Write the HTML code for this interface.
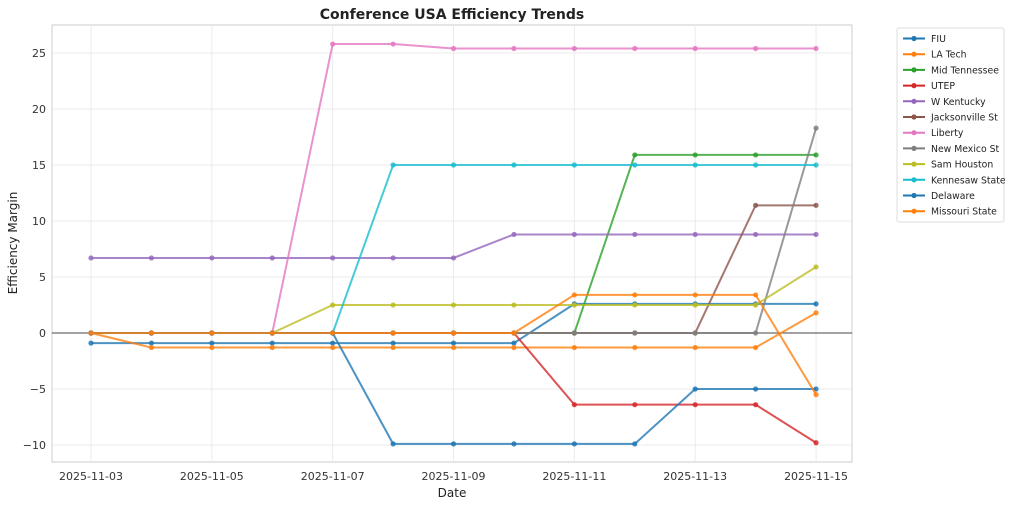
<!DOCTYPE html><html><head><style>body{margin:0;background:#fff}svg{font-family:"DejaVu Sans","Liberation Sans",sans-serif}</style></head><body>
<svg id="s" width="1024" height="506" xmlns="http://www.w3.org/2000/svg"></svg>
<script>
const s=document.getElementById('s');let h='';
const X=i=>91+60.42*i, Y=v=>333-11.2*v;
h+='<rect x="52" y="25" width="800" height="437" fill="#fff" stroke="#ccc"/>';
for(let i=0;i<=12;i+=2){h+=`<line x1="${X(i)}" y1="25" x2="${X(i)}" y2="462" stroke="#ebebeb"/>`;h+=`<text x="${X(i)}" y="480" font-size="11" text-anchor="middle" fill="#333">2025-11-${String(3+i).padStart(2,'0')}</text>`;}
for(let v=-10;v<=25;v+=5){h+=`<line x1="52" y1="${Y(v)}" x2="852" y2="${Y(v)}" stroke="#ebebeb"/>`;h+=`<text x="46" y="${Y(v)+4}" font-size="11" text-anchor="end" fill="#333">${v<0?'−'+(-v):v}</text>`;}
h+=`<line x1="52" y1="${Y(0)}" x2="852" y2="${Y(0)}" stroke="#444" stroke-width="0.9"/>`;
const rep=(a,n)=>Array(n).fill(a);
const S=[
['FIU','#1f77b4',[...rep(-0.9,8),...rep(2.6,5)]],
['LA Tech','#ff7f0e',[0,...rep(-1.3,11),1.8]],
['Mid Tennessee','#2ca02c',[...rep(0,9),...rep(15.9,4)]],
['UTEP','#d62728',[...rep(0,8),...rep(-6.4,4),-9.8]],
['W Kentucky','#9467bd',[...rep(6.7,7),...rep(8.8,6)]],
['Jacksonville St','#8c564b',[...rep(0,11),11.4,11.4]],
['Liberty','#e377c2',[0,0,0,0,25.8,25.8,...rep(25.4,7)]],
['New Mexico St','#7f7f7f',[...rep(0,12),18.3]],
['Sam Houston','#bcbd22',[0,0,0,0,...rep(2.5,8),5.9]],
['Kennesaw State','#17becf',[...rep(0,5),...rep(15,8)]],
['Delaware','#1f77b4',[...rep(0,5),...rep(-9.9,5),-5,-5,-5]],
['Missouri State','#ff7f0e',[...rep(0,8),3.4,3.4,3.4,3.4,-5.5]]];
S.forEach(([n,c,d])=>{h+=`<polyline fill="none" stroke="${c}" stroke-width="2" opacity="0.8" points="${d.map((v,i)=>X(i)+','+Y(v)).join(' ')}"/>`;d.forEach((v,i)=>h+=`<circle cx="${X(i)}" cy="${Y(v)}" r="2.6" fill="${c}" opacity="0.85"/>`);});
h+='<text x="452" y="19" font-size="14" font-weight="bold" text-anchor="middle" fill="#222">Conference USA Efficiency Trends</text>';
h+='<text x="452" y="497" font-size="12" text-anchor="middle" fill="#222">Date</text>';
h+='<text x="17" y="243" font-size="12" text-anchor="middle" fill="#222" transform="rotate(-90 17 243)">Efficiency Margin</text>';
h+='<rect x="897" y="28" width="107" height="194" fill="#fff" stroke="#ddd" rx="2"/>';
S.forEach(([n,c],k)=>{const y=38.5+15.7*k;h+=`<line x1="903" y1="${y}" x2="925" y2="${y}" stroke="${c}" stroke-width="2"/><circle cx="914" cy="${y}" r="2.6" fill="${c}"/><text x="931" y="${y+3.5}" font-size="9.3" fill="#222">${n}</text>`;});
s.innerHTML=h;
</script></body></html>
